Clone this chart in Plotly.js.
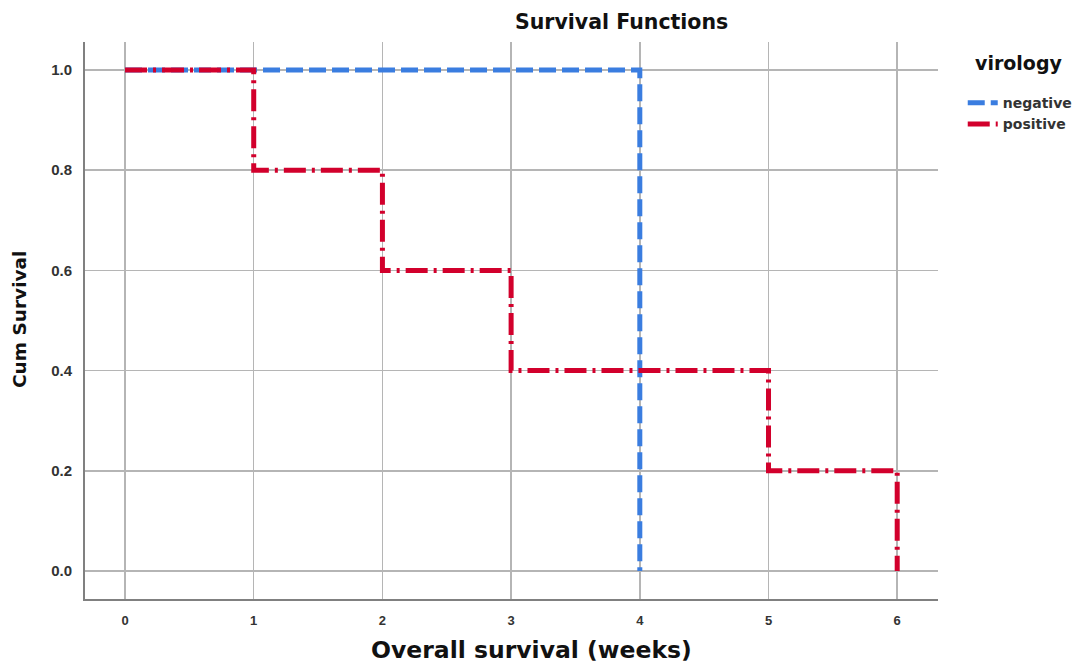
<!DOCTYPE html>
<html>
<head>
<meta charset="utf-8">
<script src="https://cdn.plot.ly/plotly-3.0.1.min.js"></script>
<style>html,body{margin:0;padding:0;background:#fff;}#chart{width:1073px;height:663px;}</style>
</head>
<body>
<div id="chart"></div>
<script>
const negTime = [0, 4, 4];
const negSurv = [1.0, 1.0, 0.0];
const posTime = [0, 1, 1, 2, 2, 3, 3, 5, 5, 6, 6];
const posSurv = [1.0, 1.0, 0.8, 0.8, 0.6, 0.6, 0.4, 0.4, 0.2, 0.2, 0.0];
const xTicks = [0, 1, 2, 3, 4, 5, 6];
const yTicks = [0.0, 0.2, 0.4, 0.6, 0.8, 1.0];
const yTickText = ['0.0', '0.2', '0.4', '0.6', '0.8', '1.0'];

const traces = [
  {x: negTime, y: negSurv, mode: 'lines', name: 'negative',
   line: {color: '#3a7de0', width: 5, dash: '17px,6px'}},
  {x: posTime, y: posSurv, mode: 'lines', name: 'positive',
   line: {color: '#d2002c', width: 5, dash: '22px,6px,3px,6px'}}
];

const SANS = 'DejaVu Sans, Verdana, sans-serif';
const LIB = 'Liberation Sans, Arial, sans-serif';
const layout = {
  width: 1073, height: 663,
  margin: {l: 85, r: 135, t: 42, b: 64, autoexpand: false},
  paper_bgcolor: '#fff', plot_bgcolor: '#fff',
  showlegend: true,
  legend: {
    x: 1.029, xanchor: 'left', y: 0.919, yanchor: 'top',
    font: {family: SANS, size: 14, color: '#333', weight: 'bold'},
    itemwidth: 30, tracegroupgap: 0
  },
  xaxis: {
    range: [-0.311, 6.317], tickvals: xTicks, ticktext: xTicks.map(String),
    showgrid: true, gridcolor: '#b5b5b5', gridwidth: 1.5,
    showline: true, linecolor: '#808080', linewidth: 2,
    zeroline: false, ticks: '', ticklabelstandoff: 8,
    tickfont: {family: LIB, size: 13, color: '#333', weight: 'bold'}
  },
  yaxis: {
    range: [-0.056, 1.056], tickvals: yTicks, ticktext: yTickText,
    showgrid: true, gridcolor: '#b5b5b5', gridwidth: 1.5,
    showline: true, linecolor: '#808080', linewidth: 2,
    zeroline: false, ticks: '', ticklabelstandoff: 8,
    tickfont: {family: LIB, size: 15, color: '#333', weight: 'bold'}
  },
  annotations: [
    {text: '<b>Survival Functions</b>', xref: 'paper', yref: 'paper',
     x: 0.6295, y: 1.0359, xanchor: 'center', yanchor: 'middle',
     showarrow: false, font: {family: SANS, size: 20.5, color: '#111'}},
    {text: '<b>Overall survival (weeks)</b>', xref: 'paper', yref: 'paper',
     x: 0.5229, y: -0.0916, xanchor: 'center', yanchor: 'middle',
     showarrow: false, font: {family: SANS, size: 23.5, color: '#111'}},
    {text: '<b>Cum Survival</b>', xref: 'paper', yref: 'paper',
     x: -0.0762, y: 0.5009, xanchor: 'center', yanchor: 'middle', textangle: -90,
     showarrow: false, font: {family: SANS, size: 18.5, color: '#111'}},
    {text: '<b>virology</b>', xref: 'paper', yref: 'paper',
     x: (1019 - 85) / 853, y: (599 - 63) / 557, xanchor: 'center', yanchor: 'middle',
     showarrow: false, font: {family: SANS, size: 19, color: '#111'}}
  ]
};

Plotly.newPlot('chart', traces, layout, {displayModeBar: false, staticPlot: true});
</script>
</body>
</html>
